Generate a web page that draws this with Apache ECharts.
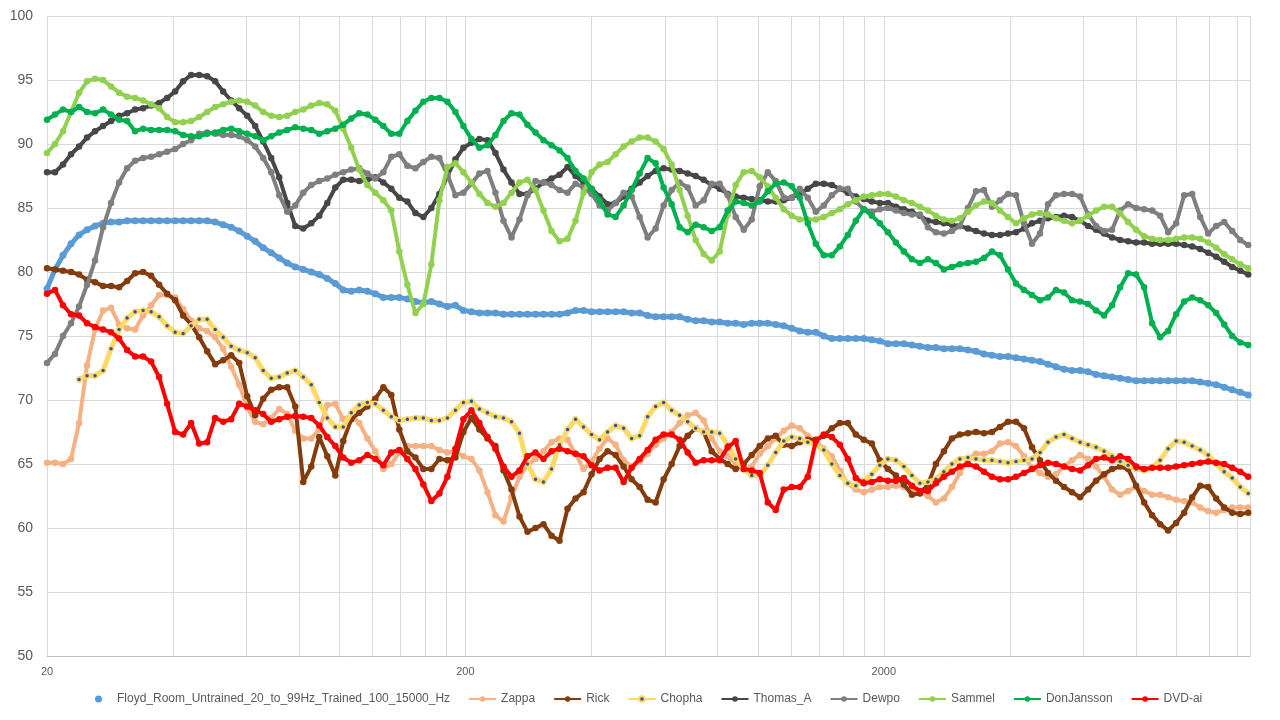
<!DOCTYPE html>
<html><head><meta charset="utf-8">
<script src="https://cdn.jsdelivr.net/npm/echarts@6/dist/echarts.min.js"></script>
<style>html,body{margin:0;padding:0;background:#fff}#c{width:1280px;height:720px}</style>
</head><body><div id="c"></div>
<script>
// Frequency points (Hz)
const freqs = [20,20.9,21.84,22.83,23.86,24.93,26.05,27.23,28.45,29.74,
31.08,32.48,33.94,35.47,37.07,38.74,40.48,42.3,44.21,46.2,
48.28,50.46,52.73,55.11,57.59,60.19,62.9,65.73,68.69,71.79,
75.02,78.4,81.94,85.63,89.48,93.52,97.73,102.1,106.7,111.5,
116.6,121.8,127.3,133,139,145.3,151.9,158.7,165.8,173.3,
181.1,189.3,197.8,206.7,216,225.8,235.9,246.6,257.7,269.3,
281.4,294.1,307.3,321.2,335.7,350.8,366.6,383.1,400.4,418.4,
437.3,457,477.6,499.1,521.6,545.1,569.6,595.3,622.1,650.1,
679.4,710,742,775.4,810.4,846.9,885,924.9,966.6,1010,
1056,1103,1153,1205,1259,1316,1375,1437,1502,1570,
1640,1714,1791,1872,1956,2045,2137,2233,2334,2439,
2549,2663,2783,2909,3040,3177,3320,3470,3626,3789,
3960,4138,4325,4520,4723,4936,5158,5391,5634,5888,
6153,6430,6720,7022,7339,7670,8015,8376,8753,9148,
9560,9991,10441,10911,11403,11917,12453,13014,13601,14214,
14854];

const floyd = [78.7,80.2,81.3,82.2,82.9,83.3,83.6,83.8,83.9,83.9,
84,84,84,84,84,84,84,84,84,84,
84,83.9,83.7,83.5,83.2,82.8,82.4,81.9,81.5,81.1,
80.7,80.4,80.2,80,79.8,79.5,79.1,78.6,78.5,78.6,
78.5,78.3,78,78,78,77.9,77.7,77.6,77.7,77.5,
77.3,77.4,77,76.9,76.8,76.8,76.8,76.7,76.7,76.7,
76.7,76.7,76.7,76.7,76.7,76.8,77,77,76.9,76.9,
76.9,76.9,76.9,76.8,76.8,76.6,76.5,76.5,76.5,76.5,
76.3,76.2,76.2,76.1,76.1,76,76,75.9,76,76,
76,75.9,75.8,75.6,75.4,75.3,75.3,75,74.8,74.8,
74.8,74.8,74.8,74.7,74.6,74.4,74.4,74.4,74.3,74.2,
74.1,74.1,74,74,74,73.9,73.8,73.6,73.5,73.4,
73.4,73.3,73.2,73.1,73,72.8,72.6,72.4,72.3,72.3,
72.2,72,71.9,71.8,71.7,71.6,71.5,71.5,71.5,71.5,
71.5,71.5,71.5,71.5,71.4,71.3,71.2,71,70.8,70.6,
70.4];

const zappa = [65.1,65.1,65,65.4,68.2,72.7,75.5,77,77.2,75.9,
75.6,75.5,76.6,77.4,78.2,78.2,78,77.1,76.2,75.6,
75.4,74.9,74,72.6,71.2,69.4,68.3,68.1,68.6,69.3,
68.9,67.6,67,67,67.7,69.6,69.7,68.5,68.8,68.2,
67,66,64.6,65,65.9,66.4,66.4,66.4,66.4,66.1,
65.9,66,65.6,65.4,64.5,62.8,61,60.5,62.4,64,
64.9,65.4,66,66.7,67,66.9,65.8,64.6,65.2,66.2,
67,66.5,65.3,64.8,65.2,65.8,66.5,67,67.5,68.2,
68.8,69,68.4,67,66,65.6,65,64.6,64.8,65.8,
66.4,67,67.6,68,67.8,67.2,66.8,66.2,65.6,64.5,
63.5,63,62.8,63,63.2,63.2,63.3,63.2,63,62.8,
62.5,62,62.3,63.2,64.3,65.4,65.8,65.8,66,66.6,
66.7,66.4,65.6,64.7,64.3,64,64.2,64.8,65.3,65.7,
65.4,64.8,64,63,62.6,62.9,63.2,62.9,62.6,62.6,
62.4,62.2,62.1,62,61.6,61.3,61.2,61.4,61.6,61.6,
61.6];

const rick = [80.3,80.2,80.1,80,79.8,79.4,79.2,78.9,78.9,78.8,
79.3,79.9,80,79.7,79,78.3,77.8,76.6,75.9,74.9,
73.8,72.8,73.1,73.5,72.9,70.3,68.8,70.1,70.8,71,
71,69.5,63.6,64.8,67.1,65.6,64.1,66.8,68.5,69,
69.5,70.1,71,70.4,67.7,66,65.5,64.6,64.6,65.4,
65.3,65.5,67.5,68.6,67.7,67,66.4,64.5,63,60.9,
59.7,60,60.3,59.4,59,61.5,62.3,62.8,64.2,65.4,
66,65.7,64.8,63.8,63.2,62.2,62,63.8,65,66.4,
67.2,67.8,67.5,66,65.4,65,64.6,65,65.7,66.4,
67,67.2,66.5,66.4,66.7,66.9,66.9,67.2,67.8,68.2,
68.2,67.3,66.9,66.6,65.3,64.6,64.1,63.4,62.6,62.7,
63.4,65,66,67,67.3,67.4,67.5,67.4,67.5,67.9,
68.3,68.3,67.8,66.3,65.3,64.3,63.7,63.2,62.8,62.4,
63,63.7,64.2,64.6,64.8,64.6,63.3,62,61,60.3,
59.8,60.4,61.2,62.4,63.3,63.2,62.3,61.6,61.2,61.1,
61.2];

const chopha = [null,null,null,null,71.6,71.9,71.9,72.3,74,75.5,
76.4,76.9,77,76.9,76.5,75.8,75.3,75.2,75.8,76.3,
76.3,75.5,74.9,74.2,73.9,73.7,73.3,72.3,71.7,71.8,
72.1,72.3,71.8,71.2,69.8,68.6,67.9,67.9,69,69.6,
69.8,69.7,69.2,68.7,68.4,68.5,68.6,68.6,68.4,68.4,
68.6,69.2,69.8,69.9,69.3,69,68.7,68.6,68.3,67.4,
65,63.8,63.6,64.6,66.5,67.7,68.5,67.9,67.3,66.9,
67.5,68,67.8,67,67.2,68.7,69.5,69.8,69.2,68.8,
68.3,67.8,67.5,67.5,67.4,66.5,65.4,64.6,64.1,64.1,
64.9,65.9,66.8,67.1,67,66.7,66.5,66.1,65,64.1,
63.5,63.3,63.7,64.2,64.9,65.4,65.3,64.8,64.1,63.5,
63.6,63.8,64.4,65,65.4,65.5,65.4,65.3,65.3,65.2,
65.1,65.2,65.3,65.4,65.9,66.7,67.1,67.3,67,66.7,
66.5,66.3,66,65.6,65.2,64.9,64.6,64.5,64.7,65.3,
66.2,66.8,66.7,66.4,66.1,65.7,65,64.4,63.9,63.2,
62.7];

const thomasA = [87.8,87.8,88.4,89.2,89.8,90.5,91,91.4,91.8,92.2,
92.4,92.7,92.8,93,93.2,93.6,94.1,94.9,95.4,95.4,
95.3,94.9,94.1,93.4,92.8,92.2,91.4,90.2,88.9,87.4,
85.4,83.6,83.4,83.8,84.4,85.4,86.6,87.2,87.2,87.1,
87.2,87.4,87,86.5,85.8,85.5,84.6,84.3,85,86.1,
87.5,88.8,89.7,90.1,90.4,90.3,89.3,88,87,86.1,
86.1,86.5,87,87.3,87.6,88.2,87.5,87,86.5,85.9,
85.3,85.4,85.9,86.5,87,87.5,87.9,88.1,88,87.9,
87.7,87.5,87.2,86.8,86.5,86.1,85.9,85.8,85.7,85.6,
85.5,85.5,85.6,85.8,86.1,86.5,86.9,86.9,86.8,86.5,
86.2,85.9,85.7,85.5,85.4,85.4,85.1,84.9,84.7,84.4,
84,83.9,83.8,83.7,83.6,83.4,83.2,83,82.9,82.9,
83,83.1,83.4,83.8,84,84.2,84.3,84.4,84.3,84,
83.6,83.3,83,82.7,82.5,82.4,82.3,82.3,82.2,82.2,
82.2,82.2,82.1,82,81.8,81.5,81.2,80.8,80.4,80.1,
79.8];

const dewpo = [72.9,73.6,75,76,77.3,79,80.9,83.5,85.4,87,
88.1,88.7,88.9,89,89.2,89.4,89.6,90,90.3,90.8,
90.9,90.8,90.7,90.7,90.6,90.3,89.8,88.9,87.8,86,
84.7,85.2,86.2,86.8,87.1,87.3,87.6,87.8,88,88.1,
87.7,87.3,87.8,89,89.2,88.3,88.1,88.6,89,88.9,
87.6,86,86.2,86.9,87.7,87.9,86.2,84,82.7,84.1,
86,87.1,87,86.8,86.4,86.2,86.9,86.6,86.1,85.2,
84.8,85.4,86.2,85.9,84.3,82.7,83.4,85.2,86.4,87,
86.6,85.2,85.6,86.9,86.9,86,84.3,83.3,84.1,86.7,
87.8,87.1,85.8,85.8,86.5,85.8,84.7,85.2,86,86.5,
86.5,85.5,84.9,84.7,84.9,85,84.8,84.6,84.5,84.5,
83.5,83.1,83,83.2,83.6,85,86.3,86.4,85.1,85.6,
86.1,86,83.8,82.2,83,85.3,86,86.1,86.1,85.9,
84.5,83.6,83.2,83.3,84.8,85.3,85,84.9,84.8,84.4,
83.1,83.8,86,86.1,84.3,83,83.6,83.9,83.2,82.5,
82.1];

const sammel = [89.3,90,91,92.5,94,94.9,95.1,95,94.5,94,
93.7,93.6,93.4,93.1,92.8,92.1,91.7,91.7,91.8,92.1,
92.5,92.9,93.1,93.3,93.4,93.3,93,92.5,92.2,92.1,
92.2,92.5,92.7,93,93.2,93.1,92.6,91.2,89.7,88,
86.8,86.2,85.6,84.8,81.6,79,76.8,77.5,80.6,85.6,
88.2,88.5,87.8,87,86.1,85.4,85.1,85.4,86.2,87,
87.2,86.4,84.8,83.2,82.4,82.6,84,86.2,87.8,88.4,
88.6,89.2,89.8,90.2,90.5,90.5,90.2,89.6,88.4,86.4,
84.4,82.5,81.4,80.9,81.6,84.5,86.8,87.8,87.9,87.4,
86.7,85.8,84.9,84.4,84.1,84.1,84.1,84.3,84.6,84.9,
85.3,85.6,85.9,86,86.1,86.1,85.9,85.6,85.4,85.1,
84.8,84.4,84.1,84,84.2,84.7,85.2,85.5,85.4,84.8,
84.3,83.8,84.2,84.5,84.6,84.5,84.2,84,83.8,84,
84.4,84.8,85.1,85.1,84.6,83.9,83.3,82.8,82.6,82.5,
82.5,82.6,82.7,82.7,82.6,82.3,81.9,81.4,81,80.6,
80.3];

const donJansson = [91.9,92.3,92.7,92.5,92.9,92.5,92.4,92.7,92.3,91.9,
91.8,91,91.2,91.1,91.1,91.1,91,90.7,90.6,90.6,
90.8,90.9,91.1,91.2,91,90.8,90.6,90.3,90.6,90.9,
91.1,91.3,91.2,91.1,90.8,91,91.2,91.5,92,92.4,
92.3,91.9,91.4,90.8,90.8,91.8,92.6,93.3,93.6,93.6,
93.3,92.5,91.4,90.4,89.7,89.9,90.7,91.8,92.4,92.3,
91.5,90.9,90.3,89.9,89.5,88.9,87.9,87.3,86.5,85.6,
84.5,84.3,85.2,86.4,87.7,88.9,88.5,86.6,85.3,83.5,
83.1,83.7,83.5,83.2,83.5,84.8,85.5,85.4,85.2,85.5,
86.3,86.9,87,86.7,85.8,83.8,82.2,81.3,81.3,82,
82.9,84,84.9,84.4,83.8,83.1,82.3,81.6,81,80.7,
81,80.7,80.2,80.4,80.6,80.7,80.8,81.1,81.6,81.3,
80.2,79.1,78.6,78.2,77.8,78,78.6,78.4,77.8,77.7,
77.5,77,76.6,77.4,78.8,79.9,79.8,78.8,76,74.9,
75.4,76.7,77.7,78,77.8,77.4,76.8,75.9,75,74.5,
74.3];

const dvdAi = [78.3,78.6,77.4,76.7,76.6,76,75.7,75.5,75.3,74.8,
73.9,73.4,73.4,73,71.8,69.7,67.5,67.3,68.2,66.6,
66.7,68.6,68.3,68.5,69.7,69.5,69.2,68.9,68.3,68.5,
68.7,68.75,68.7,68.6,68,67.1,66.4,65.5,65.1,65.3,
65.7,65.4,64.9,65.9,66.1,65.4,64.6,63.4,62.1,62.7,
64,66.2,68.5,69.2,68.2,67.1,66.2,64.8,64,64.5,
65.6,65.9,65.4,66,66.2,66,65.8,65.6,64.9,64.5,
64.7,64.7,63.6,64.7,65.4,66.1,66.9,67.3,67.3,66.9,
65.9,65.1,65.3,65.3,65.3,66.3,66.8,64.6,64.5,64.3,
62,61.4,63,63.2,63.2,64,66.8,67.3,67.1,66.5,
65.4,63.9,63.5,63.6,63.8,63.7,63.7,63.9,63.3,62.9,
62.9,63.5,64,64.4,64.8,65,64.8,64.4,64,63.8,
63.8,64,64.3,64.6,64.9,65.1,65,64.8,64.6,64.5,
64.9,65.4,65.5,65.3,65.6,65.4,64.8,64.6,64.7,64.7,
64.7,64.8,64.9,65,65.1,65.2,65.1,65,64.7,64.4,
64];

// Axis ticks
const xLabelValues = [20, 200, 2000];
const xGridValues = [20,40,60,80,100,120,140,160,180,
  200,400,600,800,1000,1200,1400,1600,1800,
  2000,4000,6000,8000,10000,12000,14000,15000];
const seriesNames = ['Floyd_Room_Untrained_20_to_99Hz_Trained_100_15000_Hz','Zappa','Rick','Chopha','Thomas_A','Dewpo','Sammel','DonJansson','DVD-ai'];
const seriesValues = [floyd, zappa, rick, chopha, thomasA, dewpo, sammel, donJansson, dvdAi];

// Styles
const styles = [
  {color:'#5B9BD5', lw:5, ss:7},
  {color:'#F4B183', lw:4, ss:6.5},
  {color:'#843C0C', lw:4, ss:6.5},
  {color:'#FFD966', lw:5, ss:5, marker:'#2F5597'},
  {color:'#474747', lw:4, ss:6.5},
  {color:'#7F7F7F', lw:4, ss:6.5},
  {color:'#92D050', lw:4, ss:6.5},
  {color:'#00B050', lw:4, ss:6.5},
  {color:'#FF0000', lw:4, ss:6.5}
];

const series = seriesNames.map((name, k) => {
  const st = styles[k];
  const data = [];
  seriesValues[k].forEach((v, i) => { if (v !== null) data.push([freqs[i], v]); });
  return {
    name, type:'line', data, symbol:'circle', symbolSize: st.ss, showSymbol:true,
    lineStyle: {width: st.lw, color: st.color},
    itemStyle: st.marker ? {color: st.marker, borderColor: st.color, borderWidth: 1.5} : {color: st.color},
    emphasis: {disabled: true}, z: 2 + k * 0.01, animation:false
  };
});

const legendData = seriesNames.map((n, k) => k === 0 ? {name:n, icon:'circle'} : {name:n});

const chart = echarts.init(document.getElementById('c'), null, {renderer:'canvas'});
chart.setOption({
  backgroundColor:'#fff',
  animation:false,
  grid:{left:47, right:30, top:16, bottom:64, containLabel:false},
  xAxis:{
    type:'log', logBase:10, min:20, max:15000,
    axisLine:{show:true, lineStyle:{color:'#BFBFBF', width:1}},
    axisTick:{show:false, customValues:xGridValues},
    splitLine:{show:true, lineStyle:{color:'#D9D9D9', width:1}},
    minorTick:{show:false}, minorSplitLine:{show:false},
    axisLabel:{customValues:xLabelValues, formatter:(v)=>String(Math.round(v)), color:'#595959', fontSize:11, margin:10, fontFamily:'Liberation Sans, Arial, sans-serif'}
  },
  yAxis:{
    type:'value', min:50, max:100, interval:5,
    axisLine:{show:false}, axisTick:{show:false},
    splitLine:{show:true, lineStyle:{color:'#D9D9D9', width:1}},
    axisLabel:{color:'#595959', fontSize:14, margin:14, fontFamily:'Liberation Sans, Arial, sans-serif'}
  },
  legend:{
    data: legendData, left:90, top:688, itemWidth:27, itemHeight:7, itemGap:18,
    textStyle:{color:'#595959', fontSize:12, fontFamily:'Liberation Sans, Arial, sans-serif'}
  },
  series
});
</script></body></html>
